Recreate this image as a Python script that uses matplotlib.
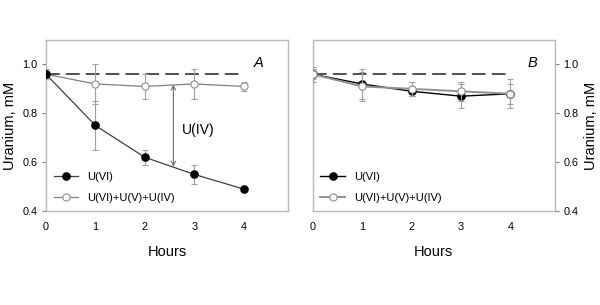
import matplotlib
matplotlib.use("Agg")
import matplotlib.pyplot as plt
from matplotlib.lines import Line2D

plt.rcParams['font.family'] = ['Liberation Sans', 'DejaVu Sans']

hours = [0, 1, 2, 3, 4]
xticks = [0, 1, 2, 3, 4]
yticks = [0.4, 0.6, 0.8, 1.0]
ytick_labels = ['0.4', '0.6', '0.8', '1.0']

# Panel A
a_u6 = [0.96, 0.75, 0.62, 0.55, 0.49]
a_u6_err = [0.01, 0.10, 0.03, 0.04, 0.005]
a_tot = [0.96, 0.92, 0.91, 0.92, 0.91]
a_tot_err = [0.02, 0.08, 0.05, 0.06, 0.02]

# Panel B
b_u6 = [0.96, 0.92, 0.89, 0.87, 0.88]
b_u6_err = [0.02, 0.06, 0.02, 0.05, 0.04]
b_tot = [0.96, 0.91, 0.90, 0.89, 0.88]
b_tot_err = [0.03, 0.06, 0.03, 0.04, 0.06]

initial = 0.96
arrow_x = 2.58
arrow_top = 0.918
arrow_bot = 0.581

fig = plt.figure(figsize=(6.0, 3.05), dpi=100)
axA = fig.add_axes([46/600, 1-211/305, 242/600, 171/305])
axB = fig.add_axes([312.7/600, 1-211/305, 242.3/600, 171/305])

spine_c = '#b8b8b8'
err_c = '#a0a0a0'
MS = 5.2

def style(ax, right=False):
    ax.set_xlim(0, 4.9)
    ax.set_ylim(0.4, 1.1)
    ax.set_xticks(xticks)
    ax.set_yticks(yticks)
    ax.set_yticklabels(ytick_labels)
    for s in ax.spines.values():
        s.set_color(spine_c)
        s.set_linewidth(1.0)
    ax.tick_params(axis='both', labelsize=7.8, length=3, width=0.8, color='#808080', pad=3)
    ax.tick_params(axis='x', length=0, pad=8)
    if right:
        ax.yaxis.tick_right()
        ax.yaxis.set_label_position('right')
    ax.set_xlabel('Hours', fontsize=10.5, labelpad=9)
    ax.set_ylabel('Uranium, mM', fontsize=10.5, labelpad=4)
    ax.plot([0, 4], [initial, initial], color='#202020', lw=1.1, dashes=(9, 4), zorder=1)

style(axA)
style(axB, right=True)

# Panel A
axA.errorbar(hours, a_tot, yerr=a_tot_err, color='#808080', ecolor=err_c, elinewidth=0.8,
             capsize=2.5, capthick=0.8, lw=0.9, marker='o', ms=MS, mfc='white', mec='#909090',
             mew=0.8, zorder=3)
axA.errorbar(hours, a_u6, yerr=a_u6_err, color='#404040', ecolor=err_c, elinewidth=0.8,
             capsize=2.5, capthick=0.8, lw=0.9, marker='o', ms=MS, mfc='black', mec='black',
             zorder=4)
axA.annotate('', xy=(arrow_x, arrow_top), xytext=(arrow_x, arrow_bot),
             arrowprops=dict(arrowstyle='<->', color='#707070', lw=0.8,
                             shrinkA=0, shrinkB=0, mutation_scale=8))
axA.text(2.75, 0.733, 'U(IV)', fontsize=10, va='center', ha='left')
axA.text(4.3, 1.004, 'A', fontsize=10.5, style='italic', ha='center', va='center')
hA = [Line2D([], [], color='#404040', lw=0.9, marker='o', ms=MS, mfc='black', mec='black'),
      Line2D([], [], color='#808080', lw=0.9, marker='o', ms=MS, mfc='white', mec='#909090', mew=0.8)]
axA.legend(hA, ['U(VI)', 'U(VI)+U(V)+U(IV)'], loc='lower left', bbox_to_anchor=(0.0, 0.0),
           frameon=False, fontsize=8, handlelength=2.2, labelspacing=1.0, borderaxespad=0.3)

# Panel B
axB.errorbar(hours, b_u6, yerr=b_u6_err, color='black', ecolor=err_c, elinewidth=0.8,
             capsize=2.5, capthick=0.8, lw=1.0, marker='o', ms=MS, mfc='black', mec='black',
             zorder=3)
axB.errorbar(hours, b_tot, yerr=b_tot_err, color='#909090', ecolor=err_c, elinewidth=0.8,
             capsize=2.5, capthick=0.8, lw=1.4, marker='o', ms=MS, mfc='white', mec='#909090',
             mew=0.8, zorder=4)
axB.text(4.45, 1.004, 'B', fontsize=10.5, style='italic', ha='center', va='center')
hB = [Line2D([], [], color='black', lw=1.0, marker='o', ms=MS, mfc='black', mec='black'),
      Line2D([], [], color='#909090', lw=1.4, marker='o', ms=MS, mfc='white', mec='#909090', mew=0.8)]
axB.legend(hB, ['U(VI)', 'U(VI)+U(V)+U(IV)'], loc='lower left', bbox_to_anchor=(0.0, 0.0),
           frameon=False, fontsize=8, handlelength=2.2, labelspacing=1.0, borderaxespad=0.3)

fig.savefig('out.png', dpi=100)
